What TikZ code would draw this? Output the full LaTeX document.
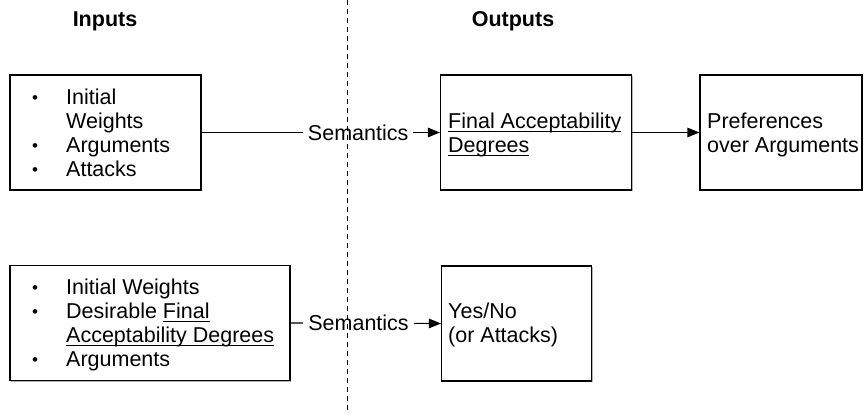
\documentclass[tikz,border=0pt]{standalone}
\usepackage{fontspec}
\setmainfont{Liberation Sans}
\newsavebox{\ulbox}
\newcommand{\myul}[1]{\sbox{\ulbox}{#1}\rlap{\rule[-2.6pt]{\wd\ulbox}{0.9pt}}\usebox{\ulbox}}
\usetikzlibrary{arrows.meta,shadows}
\tikzset{
  box/.style={draw, line width=1.1pt, fill=white, inner sep=0pt,
    drop shadow={shadow xshift=1.2pt, shadow yshift=-1.5pt, opacity=0.3, fill=black}},
  txt/.style={anchor=base west, inner sep=0pt, font=\fontsize{21.5}{24}\selectfont},
  bul/.style={anchor=base, inner sep=0pt, font=\fontsize{17}{24}\selectfont},
  head/.style={anchor=base, inner sep=0pt, font=\fontsize{21.5}{24}\selectfont\bfseries},
  lab/.style={fill=white, inner xsep=5pt, inner ysep=2pt, font=\fontsize{21.5}{24}\selectfont},
  arr/.style={line width=1.1pt, -{Triangle[length=12pt,width=9.5pt]}},
  divider/.style={line width=0.9pt, dash pattern=on 5pt off 4pt}
}
\begin{document}
\begin{tikzpicture}[x=1pt,y=-1pt]
\useasboundingbox (0,0) rectangle (868,419);
% headers
\node[head] (hin) at (105,27) {Inputs};
\node[head] (hout) at (513,27) {Outputs};
% boxes
\node[box, minimum width=191pt, minimum height=115pt] (b1) at (105.5,132.5) {};
\node[box, minimum width=191pt, minimum height=115pt] (b2) at (536,132.5) {};
\node[box, minimum width=162pt, minimum height=115pt] (b3) at (781,132.5) {};
\node[box, minimum width=280pt, minimum height=115pt] (b4) at (150,323) {};
\node[box, minimum width=150pt, minimum height=115pt] (b5) at (516.5,323.5) {};
% box 1 text
\node[bul] (p1) at (35,104) {•};
\node[txt] (t1a) at (66,105) {Initial};
\node[txt] (t1b) at (66,129) {Weights};
\node[bul] (p2) at (35,152) {•};
\node[txt] (t1c) at (66,153) {Arguments};
\node[bul] (p3) at (35,176) {•};
\node[txt] (t1d) at (66,177) {Attacks};
% box 2 text
\node[txt] (t2a) at (448,129) {\myul{Final Acceptability}};
\node[txt] (t2b) at (448,153) {\myul{Degrees}};
% box 3 text
\node[txt] (t3a) at (707,129) {Preferences};
\node[txt] (t3b) at (707,153) {over Arguments};
% box 4 text
\node[bul] (q1) at (35,294) {•};
\node[txt] (t4a) at (66,295) {Initial Weights};
\node[bul] (q2) at (35,318) {•};
\node[txt] (t4b) at (66,319) {Desirable \myul{Final}};
\node[txt] (t4c) at (66,343) {\myul{Acceptability Degrees}};
\node[bul] (q3) at (35,366) {•};
\node[txt] (t4d) at (66,367) {Arguments};
% box 5 text
\node[txt] (t5a) at (448,319) {Yes/No};
\node[txt] (t5b) at (448,343) {(or Attacks)};
% connectors
\draw[arr] (b1.east) -- node[lab, pos=0.657] (s1) {Semantics} (b2.west);
\draw[arr] (b2.east) -- (b3.west);
\draw[arr] (b4.east) -- node[lab, pos=0.452] (s2) {Semantics} (b5.west);
% divider
\coordinate (dtop) at (347,0);
\coordinate (dbot) at (347,412);
\draw[divider] (dtop) -- (dbot);
\end{tikzpicture}
\end{document}
